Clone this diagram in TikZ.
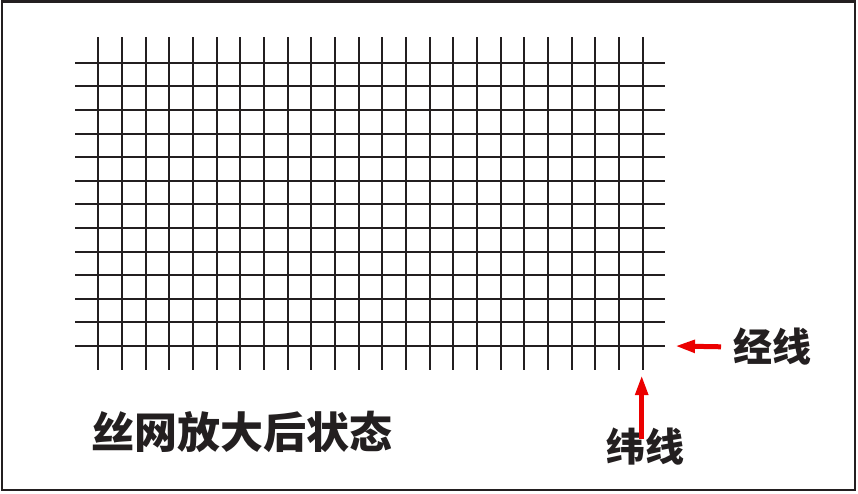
\documentclass[tikz,border=0pt]{standalone}
\usepackage{fontspec}
\usepackage{tikz}
\usetikzlibrary{arrows.meta}
\newfontfamily\cjk{Noto Sans CJK SC}
\definecolor{inkblack}{RGB}{35,31,32}
\definecolor{markred}{RGB}{235,0,0}
\tikzset{
frame/.style={draw=inkblack,line width=2.5pt},
wire/.style={draw=inkblack,line width=2pt},
label/.style={font=\cjk\bfseries\fontsize{39}{39}\selectfont,text=inkblack,inner sep=0pt},
title/.style={font=\cjk\bfseries\fontsize{43}{43}\selectfont,text=inkblack,inner sep=0pt},
pointer/.style={markred,line width=5pt,-{Triangle[length=20pt,width=12pt]}},
}
\begin{document}
\begin{tikzpicture}[x=1pt,y=-1pt]
\useasboundingbox (0,0) rectangle (858,493);
% the frame
\draw[frame] (2,1.5) rectangle (855,490);
% the warp and weft wires
\foreach \i in {0,...,23}
{
  \draw[wire] (98.3+23.67*\i,37) -- (98.3+23.67*\i,370);
}
\foreach \j in {0,...,12}
{
  \draw[wire] (75,62.7+23.61*\j) -- (665,62.7+23.61*\j);
}
% the labels
\node[label,anchor=west] (jing) at (733,347) {经线};
\node[label] (wei) at (645,447) {纬线};
\node[title] (state) at (242,432) {丝网放大后状态};
\coordinate (jingtip) at (675,346);
\coordinate (weitip) at (641.7,375);
% the arrows
\draw[pointer,shorten <=12pt] (jing.west) -- (jingtip);
\draw[pointer] ([yshift=-11pt]wei.north -| weitip) -- (weitip);
\end{tikzpicture}
\end{document}
